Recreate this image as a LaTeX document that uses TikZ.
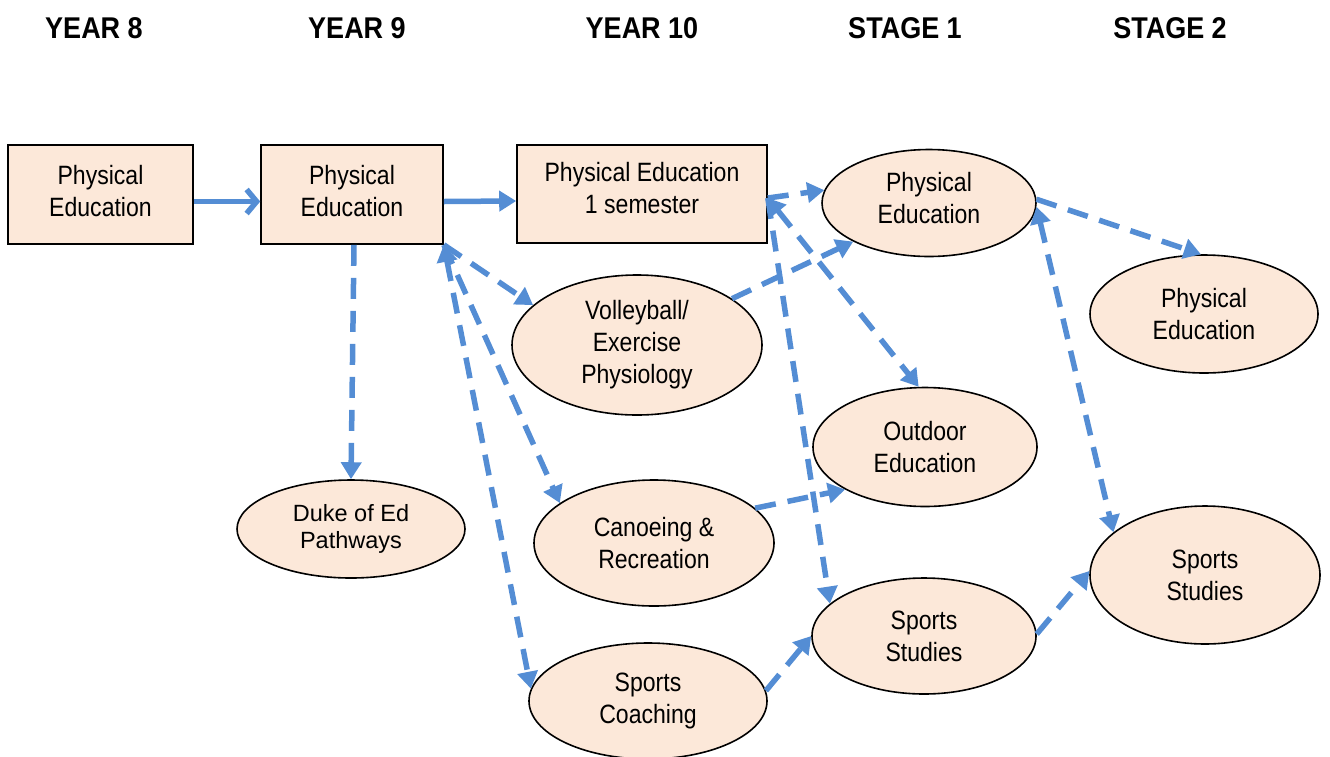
\documentclass[tikz,border=0pt]{standalone}
\usepackage{fontspec}
\setmainfont{Liberation Sans}
\newfontfamily\narrowfont[FakeStretch=0.87]{Liberation Sans}
\newfontfamily\headfont[FakeStretch=0.9]{Liberation Sans Bold}
\usetikzlibrary{shapes.geometric,arrows.meta,calc}
\definecolor{flow}{RGB}{84,141,212}
\definecolor{boxfill}{RGB}{252,232,217}
\tikzset{
  txt/.style={font=\narrowfont\fontsize{26.5}{32}\selectfont, align=center, text=black},
  head/.style={font=\headfont\fontsize{30}{34}\selectfont},
  rbox/.style={draw=black, line width=1.6pt, fill=boxfill, rectangle, inner sep=0pt},
  ell/.style={draw=black, line width=1.6pt, fill=boxfill, ellipse, inner sep=0pt},
  solidlink/.style={draw=flow, line width=5.5pt},
  dashlink/.style={draw=flow, line width=5.5pt, dash pattern=on 21pt off 12pt},
  tri/.tip={Triangle[length=17pt,width=20pt]},
}
\begin{document}
\begin{tikzpicture}[x=1pt,y=-1pt]
\useasboundingbox (0,0) rectangle (1330,756);
\clip (0,0) rectangle (1330,756);
% headers
\node[head] (h1) at (94,28) {YEAR 8};
\node[head] (h2) at (357,28) {YEAR 9};
\node[head] (h3) at (642,28) {YEAR 10};
\node[head] (h4) at (905,28) {STAGE 1};
\node[head] (h5) at (1170,28) {STAGE 2};
% boxes
\node[rbox, minimum width=185pt, minimum height=99pt] (y8) at (100.5,194.5) {};
\node[txt] (y8t) at (100.5,191) {Physical\\Education};
\node[rbox, minimum width=182pt, minimum height=99pt] (y9) at (352,194.5) {};
\node[txt] (y9t) at (352,191) {Physical\\Education};
\node[rbox, minimum width=250pt, minimum height=98pt] (y10) at (642,194) {};
\node[txt] (y10t) at (642,188) {Physical Education\\1 semester};
% ellipses
\node[ell, font=\fontsize{23.5}{27}\selectfont, align=center, minimum width=228pt, minimum height=98pt] (duke) at (351,529) {Duke of Ed\\Pathways};
\node[ell, txt, minimum width=250pt, minimum height=140pt] (vb) at (637,345) {Volleyball/\\Exercise\\Physiology};
\node[ell, txt, minimum width=240pt, minimum height=126pt] (can) at (654,543) {Canoeing \&\\Recreation};
\node[ell, txt, minimum width=238pt, minimum height=116pt] (coach) at (648,701) {Sports\\Coaching};
\node[ell, minimum width=214pt, minimum height=107pt] (pe1) at (929,203) {};
\node[txt] (pe1t) at (929,198) {Physical\\Education};
\node[ell, txt, minimum width=224pt, minimum height=119pt] (out) at (925,447) {Outdoor\\Education};
\node[ell, txt, minimum width=224pt, minimum height=116pt] (ss1) at (924,636) {Sports\\Studies};
\node[ell, txt, minimum width=228pt, minimum height=118pt] (pe2) at (1204,314) {Physical\\Education};
\node[ell, txt, minimum width=230pt, minimum height=138pt] (ss2) at (1205,575) {Sports\\Studies};
% solid links
\draw[solidlink, -{Straight Barb[length=10pt,width=24pt,line width=5.5pt]}] ([yshift=-7pt]y8.east) -- ([yshift=-7pt]y9.west);
\draw[solidlink, -tri] ([yshift=-7pt]y9.east) -- ([yshift=-7pt]y10.west);
% dashed links
\draw[dashlink, -tri] ([xshift=2pt]y9.south) -- (duke.90);
\draw[dashlink, -tri] (y9.south east) -- (vb.159.5);
\draw[dashlink, -tri] (y9.south east) -- (can.157);
\draw[dashlink, tri-tri] (y9.south east) -- (coach.174.4);
\draw[dashlink, -tri] ([yshift=-4pt]y10.east) -- (pe1.173);
\draw[dashlink, tri-tri] ([yshift=-4pt]y10.east) -- (out.96.7);
\draw[dashlink, -tri] ([yshift=-4pt]y10.east) -- (ss1.161.6);
\draw[dashlink, -tri] (vb.26) -- (pe1.-153.7);
\draw[dashlink, -tri] (can.19.3) -- (out.208.5);
\draw[dashlink, -tri] (coach.5.7) -- (ss1.180);
\draw[dashlink, -tri] (ss1.1.5) -- (ss2.178.5);
\draw[dashlink, -tri] (pe1.2) -- (pe2.93.9);
\draw[dashlink, tri-tri] (pe1.-2) -- (ss2.155.5);
\end{tikzpicture}
\end{document}
